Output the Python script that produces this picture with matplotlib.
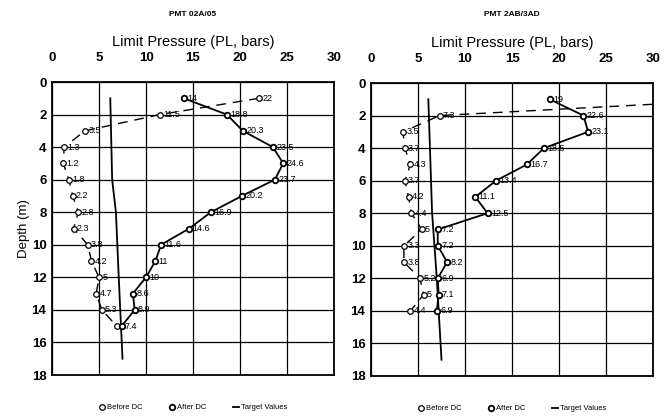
import matplotlib
matplotlib.use("Agg")
import matplotlib.pyplot as plt
from matplotlib.lines import Line2D

plt.rcParams['font.family'] = ['Liberation Sans', 'DejaVu Sans']

# ---------------- data ----------------
titles = ["PMT 02A/05", "PMT 2AB/3AD"]

depth_left = [1, 2, 3, 4, 5, 6, 7, 8, 9, 10, 11, 12, 13, 14, 15]
before_left = [22, 11.5, 3.5, 1.3, 1.2, 1.8, 2.2, 2.8, 2.3, 3.8, 4.2, 5, 4.7, 5.3, 6.9]
before_left_lbl = ["22", "11.5", "3.5", "1.3", "1.2", "1.8", "2.2", "2.8", "2.3", "3.8",
                   "4.2", "5", "4.7", "5.3", ""]
after_left = [14, 18.6, 20.3, 23.5, 24.6, 23.7, 20.2, 16.9, 14.6, 11.6, 11, 10, 8.6, 8.8, 7.4]
after_left_lbl = ["14", "18.8", "20.3", "23.5", "24.6", "23.7", "20.2", "16.9", "14.6", "11.6",
                  "11", "10", "8.6", "8.9", "7.4"]
target_left_depth = [1, 6, 8, 12, 17]
target_left = [6.2, 6.4, 6.8, 7.1, 7.5]

depth_right = [1, 2, 3, 4, 5, 6, 7, 8, 9, 10, 11, 12, 13, 14]
before_right = [40, 7.3, 3.4, 3.6, 4.2, 3.6, 4.0, 4.3, 5.4, 3.5, 3.5, 5.2, 5.6, 4.2]
before_right_lbl = ["", "7.3", "3.5", "3.7", "4.3", "3.7", "4.2", "4.4", "5", "3.3",
                    "3.8", "5.2", "5", "4.4"]
after_right = [19, 22.6, 23.1, 18.4, 16.6, 13.3, 11.1, 12.4, 7.1, 7.1, 8.1, 7.1, 7.2, 7.0]
after_right_lbl = ["19", "22.6", "23.1", "18.5", "16.7", "13.4", "11.1", "12.5", "7.2", "7.2",
                   "8.2", "6.9", "7.1", "6.9"]
target_right_depth = [1, 8, 12, 17]
target_right = [6.1, 6.5, 7.0, 7.5]

x_ticks = [0, 5, 10, 15, 20, 25, 30]
y_ticks = [0, 2, 4, 6, 8, 10, 12, 14, 16, 18]

# ---------------- figure ----------------
fig = plt.figure(figsize=(6.68, 4.19), dpi=100)
ax_l = fig.add_axes([52/668, 44/419, 282/668, 293/419])
ax_r = fig.add_axes([371/668, 43/419, 282/668, 293/419])

panels = [
    (ax_l, depth_left, before_left, before_left_lbl, after_left, after_left_lbl,
     target_left_depth, target_left, titles[0]),
    (ax_r, depth_right, before_right, before_right_lbl, after_right, after_right_lbl,
     target_right_depth, target_right, titles[1]),
]

for (ax, d, b, bl, a, al, td, tv, title) in panels:
    ax.set_xlim(0, 30)
    ax.set_ylim(18, 0)
    ax.set_xticks(x_ticks)
    ax.set_yticks(y_ticks)
    ax.xaxis.tick_top()
    ax.tick_params(axis='x', length=0, pad=13, labelsize=9.5)
    ax.tick_params(axis='y', length=0, pad=4, labelsize=9.5)
    for lab in ax.get_xticklabels() + ax.get_yticklabels():
        lab.set_fontweight('bold')
    ax.grid(True, color='black', linewidth=0.9)
    for s in ax.spines.values():
        s.set_linewidth(1.3)
        s.set_color('black')

    ax.plot(tv, td, color='black', lw=1.3, zorder=3)
    ax.plot(b, d, color='black', lw=1.0, ls=(0, (7, 5)), marker='o', ms=4,
            mfc='white', mec='black', mew=0.9, zorder=4)
    ax.plot(a, d, color='black', lw=1.3, marker='o', ms=4,
            mfc='white', mec='black', mew=1.3, zorder=5)
    for x, y, t in zip(b, d, bl):
        if t and x <= 30:
            ax.text(x + 0.35, y, t, fontsize=6.5, va='center', ha='left', zorder=6)
    for x, y, t in zip(a, d, al):
        if t:
            ax.text(x + 0.35, y, t, fontsize=6.5, va='center', ha='left', zorder=6)

    ax.set_xlabel("Limit Pressure (PL, bars)", fontsize=10.5, labelpad=4)
    ax.xaxis.set_label_position('top')
    pos = ax.get_position()
    fig.text(pos.x0 + pos.width / 2, 1 - 14/419, title, fontsize=6, fontweight='bold',
             ha='center', va='center')

    handles = [
        Line2D([], [], ls='none', marker='o', ms=4, mfc='white', mec='black', mew=0.9),
        Line2D([], [], ls='none', marker='o', ms=4, mfc='white', mec='black', mew=1.3),
        Line2D([], [], color='black', lw=1.3),
    ]
    ax.legend(handles, ["Before DC", "After DC", "Target Values"], loc='upper center',
              bbox_to_anchor=(0.5, -0.075), ncol=3, frameon=False, fontsize=5.5,
              handlelength=0.8, handletextpad=0.2, columnspacing=3.5)

ax_l.set_ylabel("Depth (m)", fontsize=9.5, labelpad=1)

fig.savefig("out.png", dpi=100)
